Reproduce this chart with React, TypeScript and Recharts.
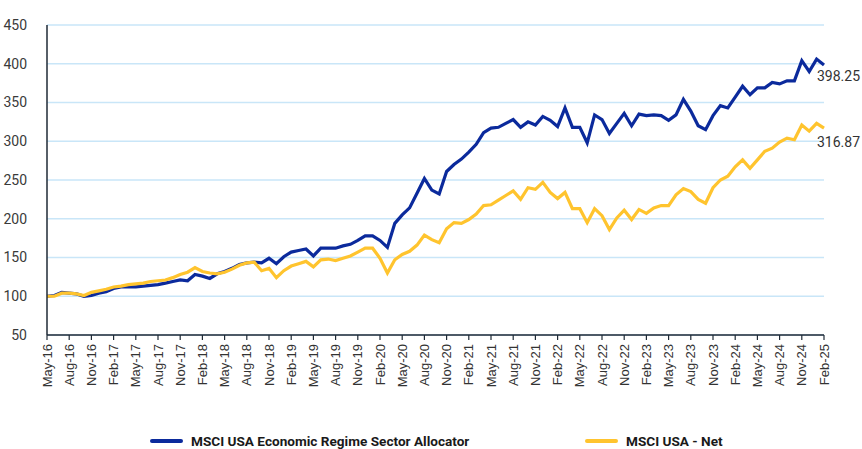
import { LineChart, Line, XAxis, YAxis, CartesianGrid, Legend, LabelList } from "recharts"

const MONTHS = ["Jan", "Feb", "Mar", "Apr", "May", "Jun", "Jul", "Aug", "Sep", "Oct", "Nov", "Dec"]

// May-16 .. Feb-25, monthly
const categories: string[] = []
for (let k = 4; k < 4 + 106; k++) {
  const yr = 16 + Math.floor(k / 12)
  categories.push(`${MONTHS[k % 12]}-${yr}`)
}

const TICK_LABELS = [
  "May-16", "Aug-16", "Nov-16", "Feb-17", "May-17", "Aug-17", "Nov-17", "Feb-18", "May-18",
  "Aug-18", "Nov-18", "Feb-19", "May-19", "Aug-19", "Nov-19", "Feb-20", "May-20", "Aug-20",
  "Nov-20", "Feb-21", "May-21", "Aug-21", "Nov-21", "Feb-22", "May-22", "Aug-22", "Nov-22",
  "Feb-23", "May-23", "Aug-23", "Nov-23", "Feb-24", "May-24", "Aug-24", "Nov-24", "Feb-25",
]

const Y_TICKS = [50, 100, 150, 200, 250, 300, 350, 400, 450]

const allocator = [
  100, 101, 105, 104, 103, 100, 101, 104, 106, 110, 112, 112,
  112, 113, 114, 115, 117, 119, 121, 120, 128, 126, 123, 129,
  132, 136, 141, 143, 144, 143, 149, 142, 151, 157, 159, 161,
  152, 162, 162, 162, 165, 167, 172, 178, 178, 172, 163, 194,
  205, 214, 233, 252, 237, 232, 261, 270, 277, 286, 296, 311,
  317, 318, 323, 328, 318, 325, 321, 332, 327, 319, 343, 318,
  318, 298, 334, 328, 310, 323, 336, 320, 335, 333, 334, 333,
  327, 334, 354, 339, 320, 315, 333, 346, 343, 357, 371, 360,
  369, 369, 376, 374, 378, 378, 404, 390, 406, 398.25,
]

const msciUsa = [
  100, 100, 104, 104, 103, 101, 105, 107, 109, 112, 113, 115,
  116, 117, 119, 120, 121, 124, 128, 131, 137, 132, 130, 129,
  131, 135, 140, 143, 144, 133, 136, 124, 133, 139, 142, 145,
  138, 147, 148, 146, 149, 152, 157, 162, 162, 149, 130, 147,
  154, 158, 166, 179, 173, 169, 187, 195, 194, 199, 206, 217,
  218, 224, 230, 236, 225, 240, 238, 247, 234, 226, 234, 213,
  213, 195, 213, 204, 186, 201, 211, 199, 212, 207, 214, 217,
  217, 231, 239, 235, 225, 220, 240, 250, 255, 267, 276, 265,
  276, 287, 291, 299, 304, 302, 321, 313, 323, 316.87,
]

const SERIES = [
  { key: "allocator", name: "MSCI USA Economic Regime Sector Allocator", color: "#0B2A9C", dy: 11 },
  { key: "msci", name: "MSCI USA - Net", color: "#FFC42E", dy: 14 },
]

const data = categories.map((m, i) => ({ month: m, allocator: allocator[i], msci: msciUsa[i] }))

const XTick = (props: any) => {
  const { x, y, payload } = props
  return (
    <text
      x={x}
      y={y + 2}
      transform={`rotate(-90 ${x} ${y + 2})`}
      textAnchor="end"
      dy="0.35em"
      fontSize={13}
      fontFamily="'Liberation Sans', Arial, sans-serif"
      fill="#333"
    >
      {payload.value}
    </text>
  )
}

// value label next to the last point only
const endLabel = (dy: number) => (props: any) => {
  const { x, y, value, index } = props
  if (index !== data.length - 1) return null
  return (
    <text x={x - 7} y={y + dy} dy="0.35em" fontSize={14} fontFamily="Roboto, sans-serif" fill="#333">
      {typeof value === "number" ? value.toFixed(2) : value}
    </text>
  )
}

const LegendContent = () => (
  <div style={{ position: "relative", width: 862, height: 16, fontFamily: "Roboto, sans-serif", fontSize: 13.6, lineHeight: "16px", fontWeight: 700, color: "#1a1a1a" }}>
    {SERIES.map((s, i) => (
      <div key={s.key} style={{ position: "absolute", left: i === 0 ? 150 : 585, top: 0, display: "flex", alignItems: "center", height: 16 }}>
        <span style={{ display: "inline-block", width: 33, height: 4, background: s.color, borderRadius: 2, marginRight: 8 }} />
        <span>{s.name}</span>
      </div>
    ))}
  </div>
)

export default function App() {
  return (
    <div style={{ position: "absolute", left: 0, top: 0, width: 862, height: 449, background: "#fff" }}>
      <LineChart width={862} height={449} data={data} margin={{ top: 25, right: 38, left: 0, bottom: 44 }}>
        <CartesianGrid vertical={false} stroke="#C9E6F8" strokeWidth={1.5} />
        <XAxis
          dataKey="month"
          ticks={TICK_LABELS}
          interval={0}
          height={70}
          tick={<XTick />}
          tickSize={5}
          axisLine={{ stroke: "#1f2a36", strokeWidth: 1.5 }}
          tickLine={{ stroke: "#1f2a36", strokeWidth: 1.2 }}
        />
        <YAxis
          width={47}
          domain={[50, 450]}
          ticks={Y_TICKS}
          interval={0}
          tickLine={false}
          axisLine={{ stroke: "#1f2a36", strokeWidth: 1.5 }}
          tick={{ fontSize: 14, fontFamily: "Roboto, sans-serif", fill: "#3a3a3a" }}
          tickMargin={14}
        />
        <Legend layout="horizontal" verticalAlign="middle" wrapperStyle={{ top: 433, left: 0, width: 862, height: 16 }} content={<LegendContent />} />
        {SERIES.map((s) => (
          <Line
            key={s.key}
            dataKey={s.key}
            name={s.name}
            stroke={s.color}
            strokeWidth={3.2}
            dot={false}
            isAnimationActive={false}
          >
            <LabelList dataKey={s.key} content={endLabel(s.dy)} />
          </Line>
        ))}
      </LineChart>
    </div>
  )
}
